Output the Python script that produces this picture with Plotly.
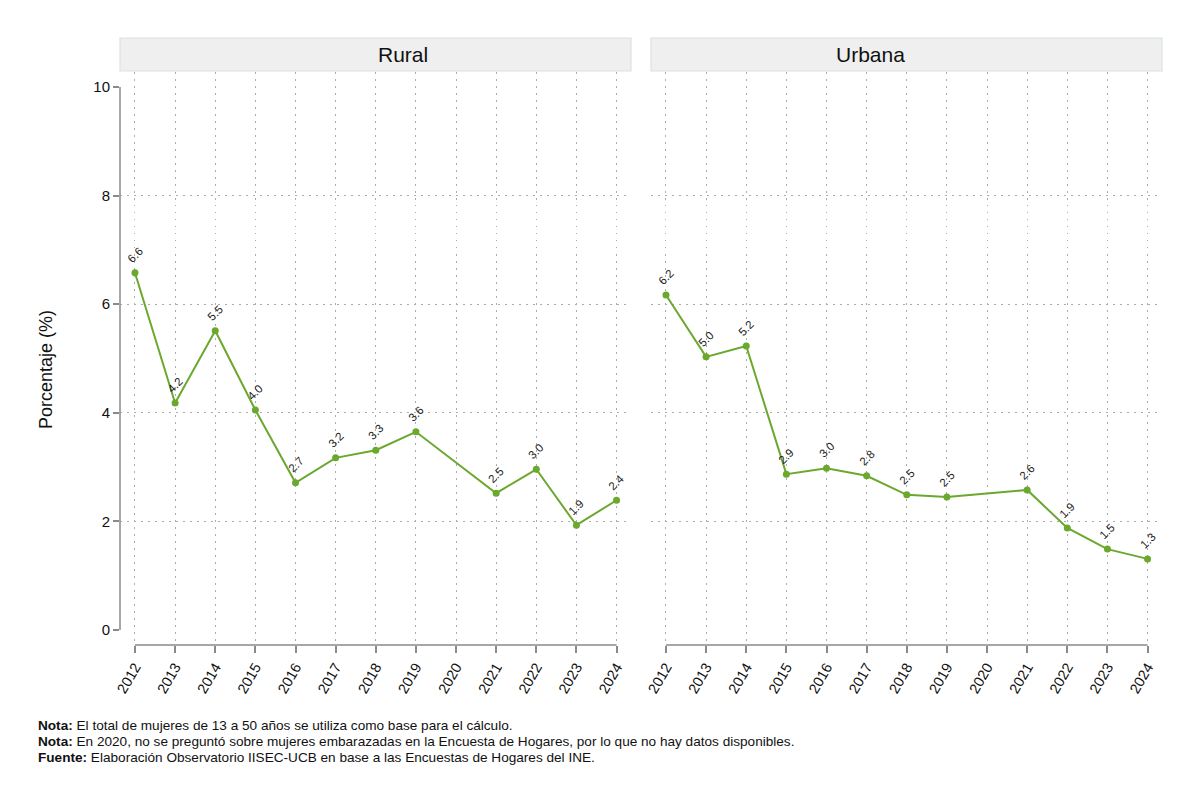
import plotly.graph_objects as go
from plotly.subplots import make_subplots

years = list(range(2012, 2025))
rural_years = [2012, 2013, 2014, 2015, 2016, 2017, 2018, 2019, 2021, 2022, 2023, 2024]
rural_vals = [6.58, 4.18, 5.51, 4.05, 2.71, 3.17, 3.31, 3.65, 2.52, 2.96, 1.93, 2.39]
rural_labels = ["6.6", "4.2", "5.5", "4.0", "2.7", "3.2", "3.3", "3.6", "2.5", "3.0", "1.9", "2.4"]
urb_years = [2012, 2013, 2014, 2015, 2016, 2017, 2018, 2019, 2021, 2022, 2023, 2024]
urb_vals = [6.17, 5.03, 5.23, 2.87, 2.98, 2.84, 2.49, 2.45, 2.58, 1.88, 1.49, 1.31]
urb_labels = ["6.2", "5.0", "5.2", "2.9", "3.0", "2.8", "2.5", "2.5", "2.6", "1.9", "1.5", "1.3"]
panels = ["Rural", "Urbana"]
yticks = [0, 2, 4, 6, 8, 10]
ygrid = [2, 4, 6, 8]
ytitle = "Porcentaje (%)"
notes = [
    "<b>Nota:</b> El total de mujeres de 13 a 50 años se utiliza como base para el cálculo.",
    "<b>Nota:</b> En 2020, no se preguntó sobre mujeres embarazadas en la Encuesta de Hogares, por lo que no hay datos disponibles.",
    "<b>Fuente:</b> Elaboración Observatorio IISEC-UCB en base a las Encuestas de Hogares del INE.",
]

FONT = "Liberation Sans, Arial"
GREEN = "#6aa82e"
GRID = "#ababab"
DASH = "1.5px,5.5px"
W, H = 1200, 801

fig = make_subplots(rows=1, cols=2, shared_yaxes=True)

series = [(rural_years, rural_vals, rural_labels), (urb_years, urb_vals, urb_labels)]
for i, (xs, ys, labs) in enumerate(series, start=1):
    fig.add_trace(go.Scatter(x=xs, y=ys, mode="lines+markers",
                             line=dict(color=GREEN, width=2),
                             marker=dict(color=GREEN, size=7),
                             showlegend=False, hoverinfo="skip"), row=1, col=i)
    xr = "x" if i == 1 else "x2"
    yr = "y" if i == 1 else "y2"
    for x, y, t in zip(xs, ys, labs):
        fig.add_annotation(x=x, y=y, xref=xr, yref=yr, text=t, showarrow=False,
                           textangle=-45, yshift=18, xshift=0,
                           font=dict(family=FONT, size=11.5, color="#222222"))

xdoms = [[120 / W, 631 / W], [651 / W, 1162 / W]]
ydom = [1 - 645 / H, 1 - 72 / H]
xrange_ = [2011.627, 2024.36]
yrange_ = [-0.276, 10.276]

for i in (1, 2):
    fig.update_xaxes(row=1, col=i, domain=xdoms[i - 1], range=xrange_, automargin=False,
                     tickvals=years, ticktext=[str(y) for y in years],
                     tickangle=-60, ticks="outside", ticklen=7, tickcolor="#8a8a8a",
                     tickwidth=1.5,
                     showgrid=True, gridcolor=GRID, griddash=DASH, gridwidth=1.3,
                     showline=False, zeroline=False,
                     tickfont=dict(family=FONT, size=14.5, color="#111"))
    fig.update_yaxes(row=1, col=i, domain=ydom, range=yrange_, automargin=False,
                     tickvals=yticks, showgrid=False, zeroline=False, showline=False,
                     minor=dict(tickvals=ygrid, showgrid=True, gridcolor=GRID,
                                griddash=DASH, gridwidth=1.3, ticks=""),
                     tickfont=dict(family=FONT, size=15, color="#111"))
fig.update_yaxes(row=1, col=1, ticks="outside", ticklen=6, tickcolor="#8a8a8a", tickwidth=1.5)
fig.update_yaxes(row=1, col=2, ticks="", showticklabels=False)

fig.add_annotation(xref="paper", yref="paper", x=46 / W, y=1 - 370 / H, text=ytitle,
                   textangle=-90, showarrow=False, xanchor="center", yanchor="middle",
                   font=dict(family=FONT, size=18, color="#111"))

# axis lines spanning data range
for xr, yr in [("x", "y"), ("x2", "y2")]:
    fig.add_shape(type="line", xref=xr, yref=yr + " domain",
                  x0=years[0], x1=years[-1], y0=0, y1=0,
                  line=dict(color="#8a8a8a", width=1.5))
fig.add_shape(type="line", xref="x domain", yref="y", x0=0, x1=0, y0=yticks[0], y1=yticks[-1],
              line=dict(color="#8a8a8a", width=1.5))

# strip headers
for i, name in enumerate(panels):
    fig.add_shape(type="rect", xref="paper", yref="paper",
                  x0=xdoms[i][0], x1=xdoms[i][1], y0=1 - 71 / H, y1=1 - 38 / H,
                  fillcolor="#efefef", line=dict(color="#d8e2e6", width=1.2), layer="below")
    fig.add_annotation(xref="paper", yref="paper", x=(xdoms[i][0] + xdoms[i][1]) / 2,
                       y=1 - 54.5 / H, text=name, showarrow=False, yanchor="middle",
                       font=dict(family=FONT, size=21, color="#111"))

for k, t in enumerate(notes):
    fig.add_annotation(xref="paper", yref="paper", x=36 / W, y=1 - (725 + 16 * k) / H,
                       text=t, showarrow=False, xanchor="left", yanchor="middle",
                       font=dict(family=FONT, size=13.6, color="#111"))

fig.update_layout(width=W, height=H, margin=dict(l=0, r=0, t=0, b=0),
                  paper_bgcolor="white", plot_bgcolor="white",
                  font=dict(family=FONT))
fig.write_html("out.html")
